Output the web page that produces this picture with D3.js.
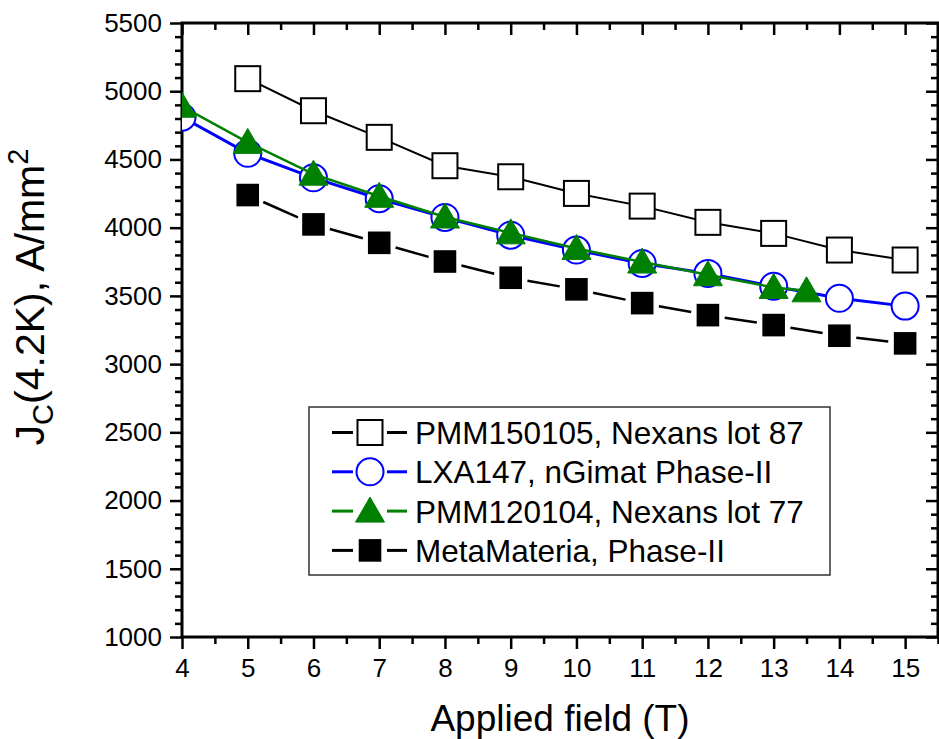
<!DOCTYPE html>
<html>
<head>
<meta charset="utf-8">
<script src="https://cdnjs.cloudflare.com/ajax/libs/d3/7.8.5/d3.min.js"></script>
<style>
body { margin: 0; background: #fff; }
text { font-family: "Liberation Sans", Arial, sans-serif; fill: #000; }
</style>
</head>
<body>
<svg id="chart" width="939" height="739"></svg>
<script>
// Jc(4.2K) vs applied field
var fieldPmm150105 = [5, 6, 7, 8, 9, 10, 11, 12, 13, 14, 15];
var jcPmm150105 = [5092, 4857, 4662, 4454, 4373, 4251, 4158, 4039, 3958, 3836, 3763];

var fieldLxa147 = [4, 5, 6, 7, 8, 9, 10, 11, 12, 13, 14, 15];
var jcLxa147 = [4810, 4545, 4365, 4212, 4075, 3945, 3836, 3738, 3665, 3570, 3482, 3425];

var fieldPmm120104 = [4, 5, 6, 7, 8, 9, 10, 11, 12, 13, 13.5];
var jcPmm120104 = [4890, 4625, 4392, 4230, 4078, 3962, 3848, 3748, 3655, 3562, 3537];

var fieldMeta = [5, 6, 7, 8, 9, 10, 11, 12, 13, 14, 15];
var jcMeta = [4239, 4024, 3889, 3752, 3633, 3548, 3447, 3359, 3286, 3208, 3152];

var legendNames = ["PMM150105, Nexans lot 87", "LXA147, nGimat Phase-II",
                   "PMM120104, Nexans lot 77", "MetaMateria, Phase-II"];

var xTickValues = [4, 5, 6, 7, 8, 9, 10, 11, 12, 13, 14, 15];
var xMinorValues = [4.5, 5.5, 6.5, 7.5, 8.5, 9.5, 10.5, 11.5, 12.5, 13.5, 14.5, 15.5];
var yTickValues = [1000, 1500, 2000, 2500, 3000, 3500, 4000, 4500, 5000, 5500];

var svg = d3.select("#chart");
var plotLeft = 182, plotRight = 938, plotTop = 23, plotBottom = 637;

var x = d3.scaleLinear().domain([4, 15.5]).range([plotLeft, plotRight]);
var y = d3.scaleLinear().domain([1000, 5500]).range([plotBottom, plotTop]);
var yMinor = d3.range(1000, 5501, 100).filter(function(v){ return v % 500 != 0; });

// axes
function styleAxis(g, w) {
    g.select(".domain").remove();
    g.selectAll(".tick line").attr("stroke", "#000").attr("stroke-width", w);
}
var bottomAxis = svg.append("g").attr("transform", "translate(0," + plotBottom + ")")
    .call(d3.axisBottom(x).tickValues(xTickValues).tickSize(12).tickFormat(d3.format("d")));
styleAxis(bottomAxis, 2.5);
bottomAxis.selectAll("text").attr("font-size", 26).attr("dy", null).attr("y", 40);
svg.append("g").attr("transform", "translate(0," + plotBottom + ")")
    .call(d3.axisBottom(x).tickValues(xMinorValues).tickSize(7).tickFormat(""))
    .call(styleAxis, 2.5);

svg.append("g").attr("transform", "translate(0," + plotTop + ")")
    .call(d3.axisTop(x).tickValues(xTickValues).tickSize(-12).tickFormat(""))
    .call(styleAxis, 2.5);
svg.append("g").attr("transform", "translate(0," + plotTop + ")")
    .call(d3.axisTop(x).tickValues(xMinorValues).tickSize(-7).tickFormat(""))
    .call(styleAxis, 2.5);

var leftAxis = svg.append("g").attr("transform", "translate(" + plotLeft + ",0)")
    .call(d3.axisLeft(y).tickValues(yTickValues).tickSize(12).tickPadding(8).tickFormat(d3.format("d")));
styleAxis(leftAxis, 2.5);
leftAxis.selectAll("text").attr("font-size", 26);
svg.append("g").attr("transform", "translate(" + plotLeft + ",0)")
    .call(d3.axisLeft(y).tickValues(yMinor).tickSize(7).tickFormat(""))
    .call(styleAxis, 2.5);

svg.append("g").attr("transform", "translate(" + plotRight + ",0)")
    .call(d3.axisRight(y).tickValues(yTickValues).tickSize(-12).tickFormat(""))
    .call(styleAxis, 2.5);
svg.append("g").attr("transform", "translate(" + plotRight + ",0)")
    .call(d3.axisRight(y).tickValues(yMinor).tickSize(-7).tickFormat(""))
    .call(styleAxis, 2.5);

svg.append("rect")
    .attr("x", plotLeft).attr("y", plotTop)
    .attr("width", plotRight - plotLeft).attr("height", plotBottom - plotTop)
    .attr("fill", "none").attr("stroke", "#000").attr("stroke-width", 3);

// axis titles
svg.append("text")
    .attr("x", (plotLeft + plotRight) / 2).attr("y", 731)
    .attr("text-anchor", "middle").attr("font-size", 37)
    .text("Applied field (T)");

var yTitle = svg.append("text")
    .attr("transform", "translate(44,297) rotate(-90)")
    .attr("text-anchor", "middle").attr("font-size", 41);
yTitle.append("tspan").text("J");
yTitle.append("tspan").attr("font-size", 29).attr("dy", 9).text("C");
yTitle.append("tspan").attr("dy", -9).text("(4.2K), A/mm");
yTitle.append("tspan").attr("font-size", 29).attr("dy", -16).text("2");

// markers
function drawMarker(g, kind, cx, cy) {
    if (kind == "openSquare") {
        g.append("rect").attr("x", cx - 12.5).attr("y", cy - 12.5).attr("width", 25).attr("height", 25)
            .attr("fill", "#fff").attr("stroke", "#000").attr("stroke-width", 2);
    } else if (kind == "circle") {
        g.append("circle").attr("cx", cx).attr("cy", cy).attr("r", 13.5)
            .attr("fill", "#fff").attr("stroke", "#0000ff").attr("stroke-width", 2);
    } else if (kind == "triangle") {
        g.append("path")
            .attr("d", "M" + cx + "," + (cy - 14) + "L" + (cx + 14.5) + "," + (cy + 11) + "L" + (cx - 14.5) + "," + (cy + 11) + "Z")
            .attr("fill", "#008000").attr("stroke", "#008000").attr("stroke-width", 1);
    } else {
        g.append("rect").attr("x", cx - 11.3).attr("y", cy - 11.3).attr("width", 22.6).attr("height", 22.6)
            .attr("fill", "#000");
    }
}

var series = [
    {xs: fieldPmm150105, ys: jcPmm150105, color: "#000", width: 2, kind: "openSquare", dashed: false},
    {xs: fieldLxa147, ys: jcLxa147, color: "#0000ff", width: 3, kind: "circle", dashed: false},
    {xs: fieldPmm120104, ys: jcPmm120104, color: "#008000", width: 2.5, kind: "triangle", dashed: false},
    {xs: fieldMeta, ys: jcMeta, color: "#000", width: 2.5, kind: "filledSquare", dashed: true}
];

svg.append("clipPath").attr("id", "clip").append("rect")
    .attr("x", plotLeft).attr("y", plotTop).attr("width", plotRight - plotLeft).attr("height", plotBottom - plotTop);
var plotArea = svg.append("g").attr("clip-path", "url(#clip)");

series.forEach(function(s) {
    var g = plotArea.append("g");
    var pts = s.xs.map(function(v, i){ return [x(v), y(s.ys[i])]; });
    if (s.dashed) {
        // one dash per segment, trimmed back from both markers
        for (var i = 0; i < pts.length - 1; i++) {
            var dx = pts[i+1][0] - pts[i][0], dy = pts[i+1][1] - pts[i][1];
            var len = Math.sqrt(dx*dx + dy*dy), trim = 17;
            g.append("line")
                .attr("x1", pts[i][0] + dx * trim / len).attr("y1", pts[i][1] + dy * trim / len)
                .attr("x2", pts[i+1][0] - dx * trim / len).attr("y2", pts[i+1][1] - dy * trim / len)
                .attr("stroke", s.color).attr("stroke-width", s.width);
        }
    } else {
        g.append("path").attr("d", d3.line()(pts))
            .attr("fill", "none").attr("stroke", s.color).attr("stroke-width", s.width);
    }
    pts.forEach(function(p){ drawMarker(g, s.kind, p[0], p[1]); });
});

// legend
var legend = svg.append("g");
legend.append("rect").attr("x", 309).attr("y", 407).attr("width", 521).attr("height", 168)
    .attr("fill", "#fff").attr("stroke", "#333").attr("stroke-width", 1.5);
series.forEach(function(s, i) {
    var cy = 432.5 + i * 39.3;
    legend.append("line").attr("x1", 332).attr("x2", 353).attr("y1", cy).attr("y2", cy)
        .attr("stroke", s.color).attr("stroke-width", 3);
    legend.append("line").attr("x1", 387).attr("x2", 407).attr("y1", cy).attr("y2", cy)
        .attr("stroke", s.color).attr("stroke-width", 3);
    drawMarker(legend, s.kind, 370, cy);
    legend.append("text").attr("x", 415).attr("y", cy + 11.5)
        .attr("font-size", 31.5).text(legendNames[i]);
});
</script>
</body>
</html>
